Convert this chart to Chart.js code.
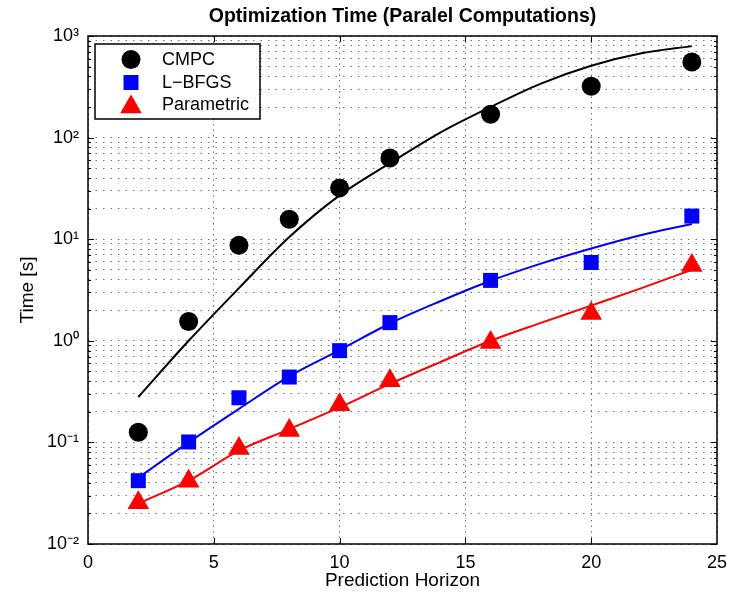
<!DOCTYPE html>
<html lang="en">
<head>
    <meta charset="UTF-8">
    <title>Optimization Time (Paralel Computations)</title>
    <script src="https://cdn.jsdelivr.net/npm/chart.js"></script>
    <style>
        body {
            margin: 0;
            padding: 0;
            background-color: #fff;
        }
        #timeChart {
            display: block;
        }
    </style>
</head>
<body>
    <canvas id="timeChart" width="736" height="593"></canvas>

    <script>
        // measured points
        const horizon = [2, 4, 6, 8, 10, 12, 16, 20, 24];
        const cmpcTime = [0.126, 1.55, 8.7, 15.7, 32, 63, 170, 320, 555];
        const lbfgsTime = [0.042, 0.101, 0.275, 0.44, 0.80, 1.51, 3.93, 5.9, 16.9];
        const paramTime = [0.0255, 0.0415, 0.087, 0.131, 0.235, 0.405, 0.96, 1.86, 5.5];

        // fitted curves
        const fitHorizon = [2, 4, 6, 8, 10, 12, 14, 16, 18, 20, 22, 24];
        const cmpcFit = [0.28, 1.0, 3.3, 10.5, 27, 56, 112, 200, 340, 510, 675, 795];
        const lbfgsFit = [0.045, 0.1, 0.214, 0.447, 0.81, 1.48, 2.45, 3.9, 5.75, 8.1, 11.0, 14.1];
        const paramFit = [0.025, 0.042, 0.083, 0.135, 0.221, 0.376, 0.617, 1.0, 1.5, 2.22, 3.3, 5.0];

        const seriesNames = ['CMPC', 'L\u2212BFGS', 'Parametric'];

        const xTicks = [0, 5, 10, 15, 20, 25];
        const yDecades = [-2, -1, 0, 1, 2, 3];
        const yTickLabels = ['10\u207B\u00B2', '10\u207B\u00B9', '10\u2070', '10\u00B9', '10\u00B2', '10\u00B3'];

        const fontFamily = "'Liberation Sans', Arial, Helvetica, sans-serif";
        Chart.defaults.font.family = fontFamily;
        Chart.defaults.color = '#000';

        // log ticks: 1..9 x 10^n, like the matlab minor grid
        const yTickValues = [];
        for (let i = 0; i < yDecades.length - 1; i++) {
            for (let m = 1; m <= 9; m++) {
                yTickValues.push(Number((m * Math.pow(10, yDecades[i])).toPrecision(3)));
            }
        }
        yTickValues.push(Math.pow(10, yDecades[yDecades.length - 1]));

        function decadeIndex(v) {
            const l = Math.log10(v);
            return yDecades.findIndex(d => Math.abs(l - d) < 1e-6);
        }

        function toPoints(xs, ys) {
            return xs.map((x, i) => ({ x: x, y: ys[i] }));
        }

        const gridColor = 'rgba(0, 0, 0, 0.55)';

        const frameAndLegend = {
            id: 'frameAndLegend',
            beforeDatasetsDraw(chart) {
                const { ctx, chartArea: a, scales } = chart;
                ctx.save();
                ctx.strokeStyle = '#000';
                ctx.lineWidth = 1;
                ctx.beginPath();
                xTicks.forEach(v => {
                    if (v <= scales.x.min || v >= scales.x.max) return;
                    const px = Math.round(scales.x.getPixelForValue(v)) + 0.5;
                    ctx.moveTo(px, a.bottom);
                    ctx.lineTo(px, a.bottom - 6);
                    ctx.moveTo(px, a.top);
                    ctx.lineTo(px, a.top + 6);
                });
                yTickValues.forEach(v => {
                    const py = Math.round(scales.y.getPixelForValue(v)) + 0.5;
                    const len = decadeIndex(v) >= 0 ? 6 : 3;
                    ctx.moveTo(a.left, py);
                    ctx.lineTo(a.left + len, py);
                    ctx.moveTo(a.right, py);
                    ctx.lineTo(a.right - len, py);
                });
                ctx.stroke();
                ctx.lineWidth = 1.5;
                ctx.strokeRect(a.left, a.top, a.right - a.left, a.bottom - a.top);
                ctx.restore();
            },
            afterDatasetsDraw(chart) {
                const { ctx, chartArea: a } = chart;
                const bx = a.left + 7, by = a.top + 8, bw = 165, bh = 75;
                const rows = [15.5, 38.5, 60];
                ctx.save();
                ctx.fillStyle = '#fff';
                ctx.fillRect(bx, by, bw, bh);
                ctx.strokeStyle = '#000';
                ctx.lineWidth = 1.5;
                ctx.strokeRect(bx, by, bw, bh);
                ctx.font = '18px ' + fontFamily;
                ctx.textBaseline = 'middle';
                ctx.textAlign = 'left';
                for (let i = 0; i < 3; i++) {
                    const ds = chart.data.datasets[i];
                    const cy = by + rows[i];
                    ctx.fillStyle = ds.backgroundColor;
                    ctx.strokeStyle = ds.backgroundColor;
                    Chart.helpers.drawPoint(ctx, {
                        pointStyle: ds.pointStyle,
                        radius: ds.pointRadius,
                        rotation: 0,
                        borderWidth: 0
                    }, bx + 36, cy + (ds.pointStyle === 'triangle' ? 3 : 0));
                    ctx.fillStyle = '#000';
                    ctx.fillText(ds.label, bx + 67, cy + 1);
                }
                ctx.restore();
            }
        };

        const markerSets = [
            { label: seriesNames[0], data: toPoints(horizon, cmpcTime), pointStyle: 'circle', pointRadius: 9.5, backgroundColor: '#000000' },
            { label: seriesNames[1], data: toPoints(horizon, lbfgsTime), pointStyle: 'rect', pointRadius: 10.6, backgroundColor: '#0000ff' },
            { label: seriesNames[2], data: toPoints(horizon, paramTime), pointStyle: 'triangle', pointRadius: 12.5, backgroundColor: '#ff0000' }
        ].map(d => Object.assign(d, { showLine: false, borderWidth: 0, pointBorderWidth: 0, pointHoverRadius: d.pointRadius }));

        const fitSets = [
            { label: 'CMPC fit', data: toPoints(fitHorizon, cmpcFit), borderColor: '#000000' },
            { label: 'L-BFGS fit', data: toPoints(fitHorizon, lbfgsFit), borderColor: '#0000ff' },
            { label: 'Parametric fit', data: toPoints(fitHorizon, paramFit), borderColor: '#ff0000' }
        ].map(d => Object.assign(d, { showLine: true, borderWidth: 2, pointRadius: 0, cubicInterpolationMode: 'monotone', fill: false }));

        const timeChart = new Chart(document.getElementById('timeChart').getContext('2d'), {
            type: 'scatter',
            data: { datasets: markerSets.concat(fitSets) },
            options: {
                responsive: false,
                animation: false,
                layout: { padding: { left: 0, right: 19, top: 0, bottom: 0 } },
                plugins: {
                    legend: { display: false },
                    tooltip: { enabled: false },
                    title: {
                        display: true,
                        fullSize: false,
                        text: 'Optimization Time (Paralel Computations)',
                        font: { size: 19.5, weight: 'bold' },
                        color: '#000',
                        padding: { top: 5, bottom: 7.6 }
                    }
                },
                scales: {
                    x: {
                        type: 'linear',
                        min: 0,
                        max: 25,
                        afterBuildTicks: s => { s.ticks = xTicks.map(v => ({ value: v })); },
                        afterFit: s => { s.height = 49; },
                        ticks: { font: { size: 18 }, padding: 8, maxRotation: 0 },
                        grid: { color: gridColor, drawTicks: false, lineWidth: 1 },
                        border: { display: false, dash: [1.5, 4] },
                        title: { display: true, text: 'Prediction Horizon', font: { size: 19 }, padding: { top: 0, bottom: 1 } }
                    },
                    y: {
                        type: 'logarithmic',
                        min: Math.pow(10, yDecades[0]),
                        max: Math.pow(10, yDecades[yDecades.length - 1]),
                        afterBuildTicks: s => { s.ticks = yTickValues.map(v => ({ value: v })); },
                        afterFit: s => { s.width = 88; },
                        ticks: {
                            font: { size: 18 },
                            padding: 9,
                            autoSkip: false,
                            callback: v => {
                                const i = decadeIndex(v);
                                return i >= 0 ? yTickLabels[i] : '';
                            }
                        },
                        grid: { color: gridColor, drawTicks: false, lineWidth: 1 },
                        border: { display: false, dash: [1.5, 6] },
                        title: { display: true, text: 'Time [s]', font: { size: 19 }, padding: { top: 16, bottom: 0 } }
                    }
                }
            },
            plugins: [frameAndLegend]
        });
    </script>
</body>
</html>
